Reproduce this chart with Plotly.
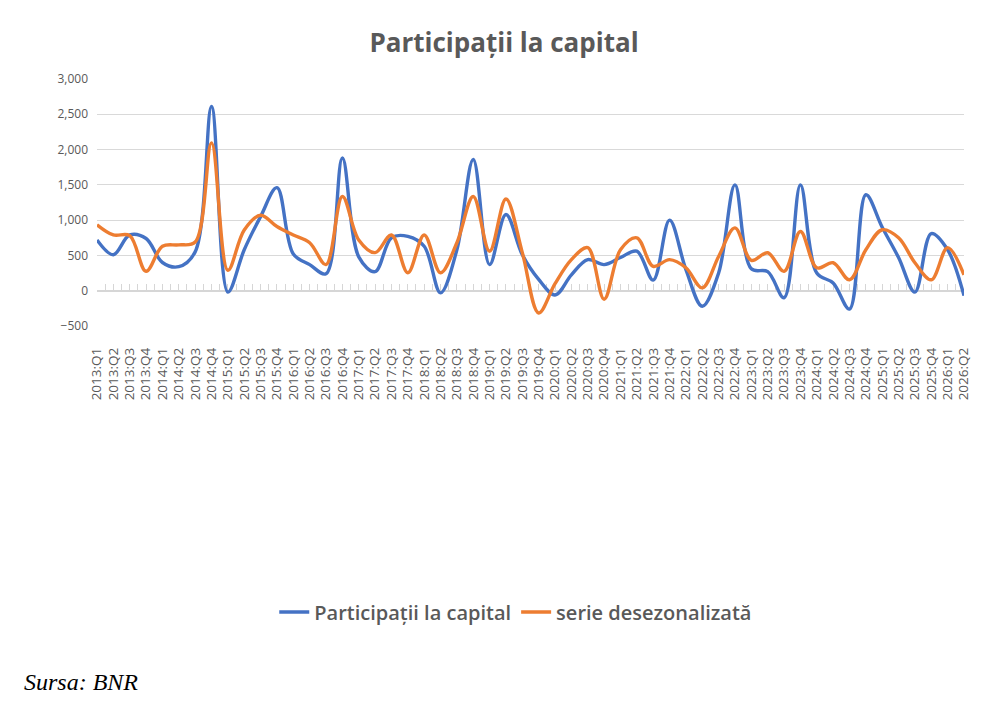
import plotly.graph_objects as go

# quarterly categories 2013:Q1 .. 2026:Q2
quarters = [f"{y}:Q{q}" for y in range(2013, 2027) for q in range(1, 5)][:54]

participatii = [720, 510, 790, 740, 400, 340, 550, 2610, -20, 580,
                1050, 1460, 520, 370, 240, 1880, 480, 270, 750, 770,
                630, -30, 580, 1860, 370, 1080, 510, 160, -60, 225,
                440, 370, 470, 560, 150, 1000, 300, -220, 250, 1500,
                310, 270, -100, 1500, 250, 110, -260, 1360, 900, 470,
                -20, 810, 580, -70]

desezonalizata = [935, 790, 780, 275, 630, 650, 690, 2095, 290, 860,
                  1070, 910, 790, 680, 370, 1335, 720, 540, 790, 255,
                  790, 255, 680, 1335, 560, 1300, 540, -315, 100, 440,
                  610, -120, 580, 750, 345, 440, 325, 40, 485, 890,
                  430, 538, 275, 840, 325, 396, 155, 580, 864, 750,
                  396, 155, 610, 225]

names = ["Participații la capital", "serie desezonalizată"]
colors = ["#4472C4", "#ED7D31"]

grey = "#595959"
font = "Open Sans"

# page body has an 8px margin, so the figure is a bit smaller than the window
W, H = 992, 693

fig = go.Figure()
for name, vals, col in zip(names, [participatii, desezonalizata], colors):
    fig.add_trace(go.Scatter(
        x=quarters, y=vals, name=name, mode="lines",
        line=dict(color=col, width=3.4, shape="spline", smoothing=1.0),
    ))
# empty trace so the zero axis (x2) is drawn
fig.add_trace(go.Scatter(x=[None], y=[None], xaxis="x2", showlegend=False, hoverinfo="skip"))

fig.update_layout(
    width=W, height=H,
    paper_bgcolor="white", plot_bgcolor="white",
    margin=dict(l=89, r=36, t=71, b=375),
    font=dict(family=font, color=grey),
    title=dict(text="<b>Participații la capital</b>", x=0.5, xanchor="center",
               y=1 - 35/H, yanchor="middle",
               font=dict(size=26, color=grey, family=font)),
    showlegend=True,
    legend=dict(orientation="h", x=0.483, xanchor="center", y=-1.158, yanchor="middle",
                font=dict(size=20, color=grey, family=font, weight=600), itemwidth=30),
    xaxis=dict(type="category", range=[0, 53], showgrid=False, zeroline=False,
               showline=False, ticks="", tickangle=-90, ticklabelstandoff=18,
               tickmode="linear", dtick=1,
               tickfont=dict(size=13.5, color=grey, family=font)),
    xaxis2=dict(overlaying="x", anchor="free", position=500/3500, range=[0, 53],
                showline=True, linecolor="#d6d6d6", linewidth=2, layer="below traces",
                ticks="inside", ticklen=6, tickcolor="#d6d6d6", tickwidth=1, dtick=0.5,
                showticklabels=False, showgrid=False, zeroline=False),
    yaxis=dict(range=[-500, 3000], dtick=500, tickformat=",", showgrid=True,
               gridcolor="#d9d9d9", gridwidth=1, zeroline=False, showline=False,
               ticklabelstandoff=8, tickfont=dict(size=12, color=grey, family=font)),
    annotations=[dict(text="<i>Sursa: BNR</i>", xref="paper", yref="paper",
                      x=(14 - 89)/867, y=(318 - 674)/247, xanchor="left", yanchor="middle",
                      showarrow=False,
                      font=dict(family="Liberation Serif", size=24, color="black"))],
)

fig.write_html("out.html")
